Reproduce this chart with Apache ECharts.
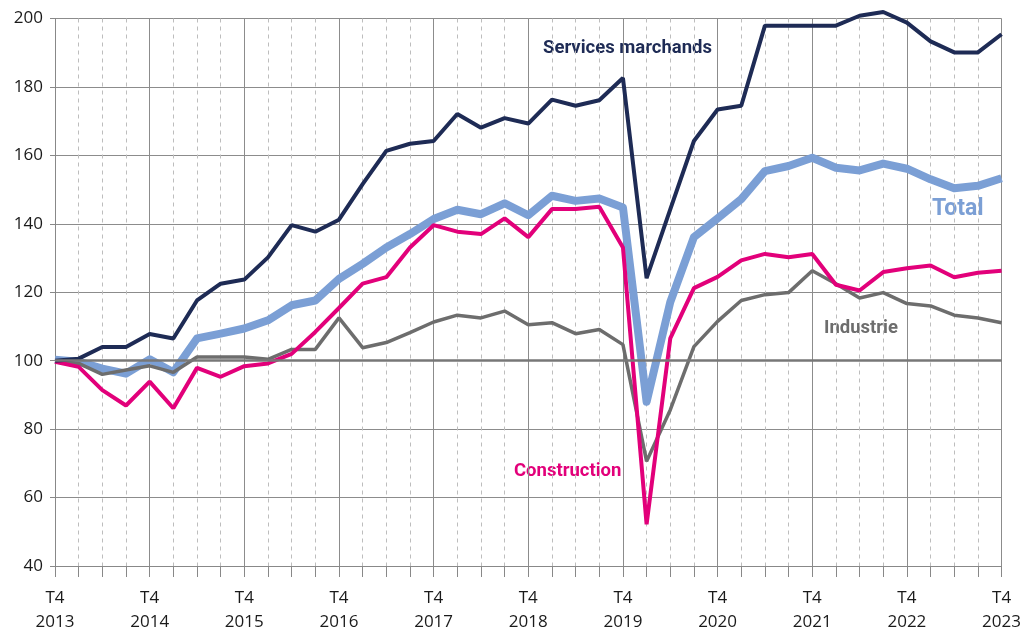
<!DOCTYPE html>
<html><head><meta charset="utf-8">
<script src="https://cdn.jsdelivr.net/npm/echarts@6/dist/echarts.min.js"></script>
<style>html,body{margin:0;padding:0;background:#fff}#c{width:1024px;height:634px}</style>
</head><body><div id="c"></div>
<script>
const years = [2013,2014,2015,2016,2017,2018,2019,2020,2021,2022,2023];
const quarters = ['T4 2013','T1 2014','T2 2014','T3 2014','T4 2014','T1 2015','T2 2015','T3 2015','T4 2015','T1 2016','T2 2016','T3 2016','T4 2016','T1 2017','T2 2017','T3 2017','T4 2017','T1 2018','T2 2018','T3 2018','T4 2018','T1 2019','T2 2019','T3 2019','T4 2019','T1 2020','T2 2020','T3 2020','T4 2020','T1 2021','T2 2021','T3 2021','T4 2021','T1 2022','T2 2022','T3 2022','T4 2022','T1 2023','T2 2023','T3 2023','T4 2023'];
const services = [100,100.6,104,104,107.8,106.5,117.6,122.5,123.7,130.2,139.6,137.7,141.2,151.6,161.3,163.4,164.2,172.1,168.1,170.9,169.3,176.3,174.5,176.1,182.6,124.1,144.2,164.2,173.4,174.5,197.9,197.9,197.9,197.9,200.8,201.9,198.8,193.3,190.1,190.1,195.4];
const total = [100.3,99.7,97.7,96.2,100.4,96.6,106.5,107.9,109.4,111.8,116.2,117.6,123.9,128.3,133.1,137,141.4,144.1,142.8,146,142.5,148.2,146.7,147.4,144.8,88,117.1,136.1,141.6,147.2,155.4,156.9,159.3,156.4,155.6,157.6,156.1,153,150.4,151.1,153.3];
const construction = [99.7,98.2,91.4,86.9,93.9,86.1,97.9,95.3,98.4,99.2,102,108.4,115.4,122.5,124.4,133.1,139.6,137.7,137,141.6,136.1,144.3,144.3,145,133.1,52.2,106.5,121.2,124.5,129.3,131.2,130.2,131.2,122.2,120.5,125.9,127,127.8,124.4,125.7,126.3];
const industrie = [99.9,99.2,96,97.3,98.5,96.6,101.1,101.1,101.1,100.4,103.3,103.3,112.5,103.8,105.3,108.2,111.3,113.3,112.5,114.5,110.5,111.1,107.9,109.1,104.7,70.6,85.6,104.1,111.5,117.6,119.3,119.9,126.3,122.5,118.3,119.9,116.7,116,113.3,112.5,111.1];
const seriesNames = ['Services marchands','Total','Industrie','Construction'];

const chart = echarts.init(document.getElementById('c'));
const axisFont = {fontFamily:'Open Sans', fontSize:17, color:'#1a1a1a'};
chart.setOption({
  animation:false,
  grid:{left:55,right:20,top:18.5,bottom:65.5,containLabel:false},
  xAxis:[{
    type:'category', data:quarters, boundaryGap:false,
    axisLine:{show:true,lineStyle:{color:'#888',width:1}},
    axisTick:{show:true,inside:false,length:11,interval:0,lineStyle:{color:'#888'}},
    axisLabel:Object.assign({interval:(i)=>i%4===0, margin:20, lineHeight:24,
      formatter:(v)=>{const p=v.split(' ');return p[0]+'\n'+p[1];}}, axisFont),
    splitLine:{show:true,interval:(i)=>i%4!==0,lineStyle:{color:'#bdbdbd',type:[4,4],width:1}}
  },{
    type:'category', data:quarters, boundaryGap:false, position:'bottom',
    axisLine:{show:false}, axisTick:{show:false}, axisLabel:{show:false},
    splitLine:{show:true,interval:(i)=>i%4===0,lineStyle:{color:'#8c8c8c',width:1}}
  }],
  yAxis:{
    type:'value', min:40, max:200, interval:20,
    axisLine:{show:true,lineStyle:{color:'#888'}},
    axisTick:{show:true,length:5,lineStyle:{color:'#888'}},
    axisLabel:Object.assign({margin:12}, axisFont),
    splitLine:{show:true,lineStyle:{color:'#8c8c8c',width:1}}
  },
  series:[
    {name:seriesNames[1],type:'line',data:total,symbol:'none',clip:false,
     lineStyle:{color:'#7b9fd5',width:8,join:'round'},
     markLine:{silent:true,symbol:'none',label:{show:false},lineStyle:{color:'#777',width:2.5,type:'solid'},data:[{yAxis:100}]}},
    {name:seriesNames[2],type:'line',data:industrie,symbol:'none',clip:false,
     lineStyle:{color:'#6d6d6d',width:3.5}},
    {name:seriesNames[3],type:'line',data:construction,symbol:'none',clip:false,
     lineStyle:{color:'#e2007a',width:4}},
    {name:seriesNames[0],type:'line',data:services,symbol:'none',clip:false,
     lineStyle:{color:'#1e2b55',width:4}}
  ],
  graphic:[
    {type:'text',left:543,top:39,style:{text:seriesNames[0],fill:'#1e2b55',font:'bold 18.5px Roboto'}},
    {type:'text',left:932,top:198,style:{text:seriesNames[1],fill:'#7b9fd5',font:'bold 23px Roboto'}},
    {type:'text',left:824,top:319,style:{text:seriesNames[2],fill:'#6d6d6d',font:'bold 18.5px Roboto'}},
    {type:'text',left:514,top:462,style:{text:seriesNames[3],fill:'#e2007a',font:'bold 18.5px Roboto'}}
  ]
});
</script></body></html>
